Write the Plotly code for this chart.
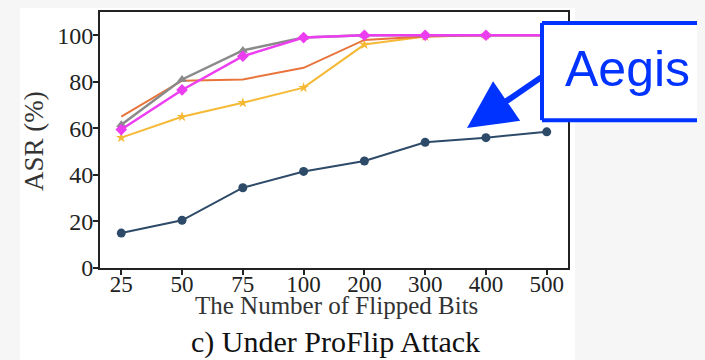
import plotly.graph_objects as go

categories = ["25", "50", "75", "100", "200", "300", "400", "500"]
aegis = [15, 20.5, 34.5, 41.5, 46, 54, 56, 58.5]
gray_s = [61.5, 81, 93.5, 99, 100, 100, 100, 100]
magenta_s = [59.5, 76.5, 91, 99, 100, 100, 100, 100]
orange_s = [65, 80.5, 81, 86, 98, 99.5, 100, 100]
yellow_s = [56, 65, 71, 77.5, 96, 99.5, 100, 100]
y_ticks = [0, 20, 40, 60, 80, 100]

# page body adds an 8px offset; plot area in screen px: x 100..568, y 10..268
OFF = 8
L, R, T, B = 100 - OFF, 568 - OFF, 10 - OFF, 268 - OFF
W, H = 697, 352

def px(x):
    return (x - OFF - L) / (R - L)

def py(y):
    return (B - (y - OFF)) / (B - T)

fig = go.Figure()

def add(y, color, symbol, size, width, name):
    fig.add_trace(go.Scatter(x=categories, y=y, mode="lines+markers", name=name,
                             line=dict(color=color, width=width),
                             marker=dict(color=color, symbol=symbol, size=size)))

add(yellow_s, "#f5b935", "star", 8, 2, "yellow")
add(orange_s, "#e8743b", "cross-thin", 7, 2, "orange")
add(gray_s, "#8a8a8a", "triangle-up", 9, 2.5, "gray")
add(magenta_s, "#ec3ef0", "diamond", 9, 2.5, "magenta")
add(aegis, "#2d4a68", "circle", 9, 2, "Aegis")

serif = "Liberation Serif, Times New Roman, serif"

fig.update_layout(
    width=W, height=H,
    margin=dict(l=L, r=W - R, t=T, b=H - B),
    paper_bgcolor="#f6f6f6", plot_bgcolor="white",
    showlegend=False,
    font=dict(family=serif, color="#222"),
    xaxis=dict(type="category", range=[-0.35, 7.35], showgrid=False, zeroline=False,
               showline=True, linecolor="#222", linewidth=2, mirror=True,
               ticks="outside", ticklen=5, tickcolor="#222", tickwidth=2,
               ticklabelstandoff=-11,
               tickfont=dict(family=serif, size=23, color="#222")),
    yaxis=dict(range=[0, 110], tickvals=y_ticks, showgrid=False, zeroline=False,
               showline=True, linecolor="#222", linewidth=2, mirror=True,
               ticks="outside", ticklen=5, tickcolor="#222", tickwidth=2,
               ticklabelstandoff=-5,
               tickfont=dict(family=serif, size=24, color="#222")),
)

# white figure panel behind chart
fig.add_shape(type="rect", xref="paper", yref="paper", layer="below",
              x0=px(20), x1=px(575), y0=py(370), y1=py(4),
              fillcolor="white", line=dict(width=0))

fig.add_annotation(text="The Number of Flipped Bits", xref="paper", yref="paper",
                   x=px(336), y=py(306), xanchor="center", yanchor="middle", showarrow=False,
                   font=dict(family=serif, size=25, color="#333"))
fig.add_annotation(text="c) Under ProFlip Attack", xref="paper", yref="paper",
                   x=px(335), y=py(343), xanchor="center", yanchor="middle", showarrow=False,
                   font=dict(family=serif, size=30, color="#111"))
fig.add_annotation(text="ASR (%)", xref="paper", yref="paper", textangle=-90,
                   x=px(34), y=py(140), xanchor="center", yanchor="middle", showarrow=False,
                   font=dict(family=serif, size=27, color="#333"))

# Aegis callout box (open on the right: it runs off the image)
bx0, bx1, by0, by1 = px(542), px(760), py(119), py(21)
blue = "#0033ff"
fig.add_shape(type="rect", xref="paper", yref="paper",
              x0=bx0, x1=bx1, y0=by0, y1=by1,
              fillcolor="white", line=dict(width=0))
for (xa, ya, xb, yb) in [(bx0, by0, bx0, by1), (bx0, by1, bx1, by1), (bx0, by0, bx1, by0)]:
    fig.add_shape(type="line", xref="paper", yref="paper",
                  x0=xa, y0=ya, x1=xb, y1=yb, line=dict(color=blue, width=4))
fig.add_annotation(text="Aegis", xref="paper", yref="paper",
                   x=px(627), y=py(67), xanchor="center", yanchor="middle", showarrow=False,
                   font=dict(family="Liberation Sans, Arial, sans-serif", size=50, color=blue))
fig.add_annotation(text="", xref="paper", yref="paper",
                   x=px(467), y=py(127), ax=76, ay=-52,
                   showarrow=True, arrowhead=2, arrowsize=1.6, arrowwidth=6,
                   arrowcolor=blue)

fig.write_html("out.html", post_script="document.body.style.background='#f6f6f6';")
